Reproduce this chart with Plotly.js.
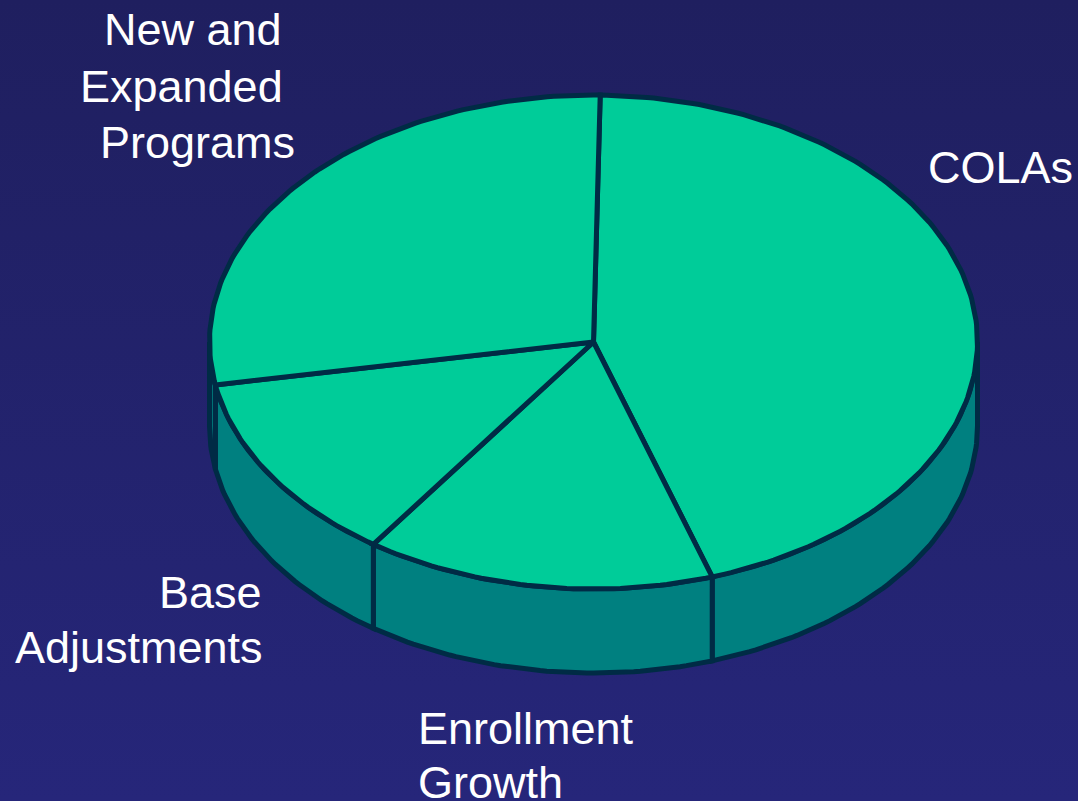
<!DOCTYPE html>
<html>
<head>
<meta charset="utf-8">
<script src="https://cdn.plot.ly/plotly-3.0.1.min.js"></script>
<style>
html,body{margin:0;padding:0;width:1078px;height:801px;overflow:hidden;background:linear-gradient(180deg,#1f1f5f 0%,#26267a 100%);}
#chart{width:1078px;height:801px;}
</style>
</head>
<body>
<div id="chart"></div>
<script>
// Data (clockwise from the top of the pie)
const categories = ["COLAs", "Enrollment Growth", "Base Adjustments", "New and Expanded Programs"];
const shares = [44.72, 14.72, 12.5, 28.06];
const labelLines = [["COLAs"], ["Enrollment", "Growth"], ["Base", "Adjustments"], ["New and", "Expanded", "Programs"]];

// Appearance
const startAngle = 1, cx = 593.5, cy = 342, rx = 384, ry = 247, depth = 84;
const TOP = "#00CC99", SIDE = "#008080", EDGE = "#002B45", TEXT = "#FFFFFF", lw = 5;
const labelAnchors = [
  [[925.5, 167]],
  [[415.5, 728], [415.5, 782]],
  [[156.5, 592], [12.5, 647]],
  [[101.5, 29], [77.5, 86], [97.5, 142]]
];

const pt = (deg, dy) => {
  const a = deg * Math.PI / 180;
  return [cx + rx * Math.sin(a), cy - ry * Math.cos(a) + (dy || 0)];
};
const arc = (from, to, dy) => {
  const out = [], n = Math.max(2, Math.ceil(Math.abs(to - from)));
  for (let i = 0; i <= n; i++) out.push(pt(from + (to - from) * i / n, dy));
  return out;
};
const poly = (pts, fill, name) => ({
  type: "scatter", mode: "lines", name: name,
  x: pts.map(p => p[0]), y: pts.map(p => p[1]),
  fill: "toself", fillcolor: fill,
  line: {color: EDGE, width: lw, shape: "linear"},
  hoverinfo: "name", showlegend: false
});

const total = shares.reduce((a, b) => a + b, 0);
let ang = startAngle;
const ranges = shares.map(v => { const r = [ang, ang + v / total * 360]; ang = r[1]; return r; });

const sides = [], tops = [];
ranges.forEach((r, i) => {
  const f = Math.max(r[0], 90), t = Math.min(r[1], 270);
  if (t > f) {
    const pts = arc(f, t, 0).concat(arc(t, f, depth));
    pts.push(pts[0]);
    sides.push(poly(pts, SIDE, categories[i]));
  }
  const pts = [[cx, cy]].concat(arc(r[0], r[1], 0));
  pts.push([cx, cy]);
  tops.push(poly(pts, TOP, categories[i]));
});

const annotations = [];
labelLines.forEach((lines, i) => lines.forEach((line, j) => annotations.push({
  text: line, xref: "x", yref: "y", x: labelAnchors[i][j][0], y: labelAnchors[i][j][1],
  xanchor: "left", yanchor: "middle", showarrow: false,
  font: {family: "Liberation Sans, Arial, sans-serif", size: 45, color: TEXT}
})));

const hidden = {visible: false, fixedrange: true};
Plotly.newPlot("chart", sides.concat(tops), {
  width: 1078, height: 801,
  margin: {l: 0, r: 0, t: 0, b: 0},
  paper_bgcolor: "rgba(0,0,0,0)", plot_bgcolor: "rgba(0,0,0,0)",
  xaxis: Object.assign({range: [0, 1078]}, hidden),
  yaxis: Object.assign({range: [801, 0]}, hidden),
  showlegend: false,
  annotations: annotations
}, {displayModeBar: false, staticPlot: true});
</script>
</body>
</html>
